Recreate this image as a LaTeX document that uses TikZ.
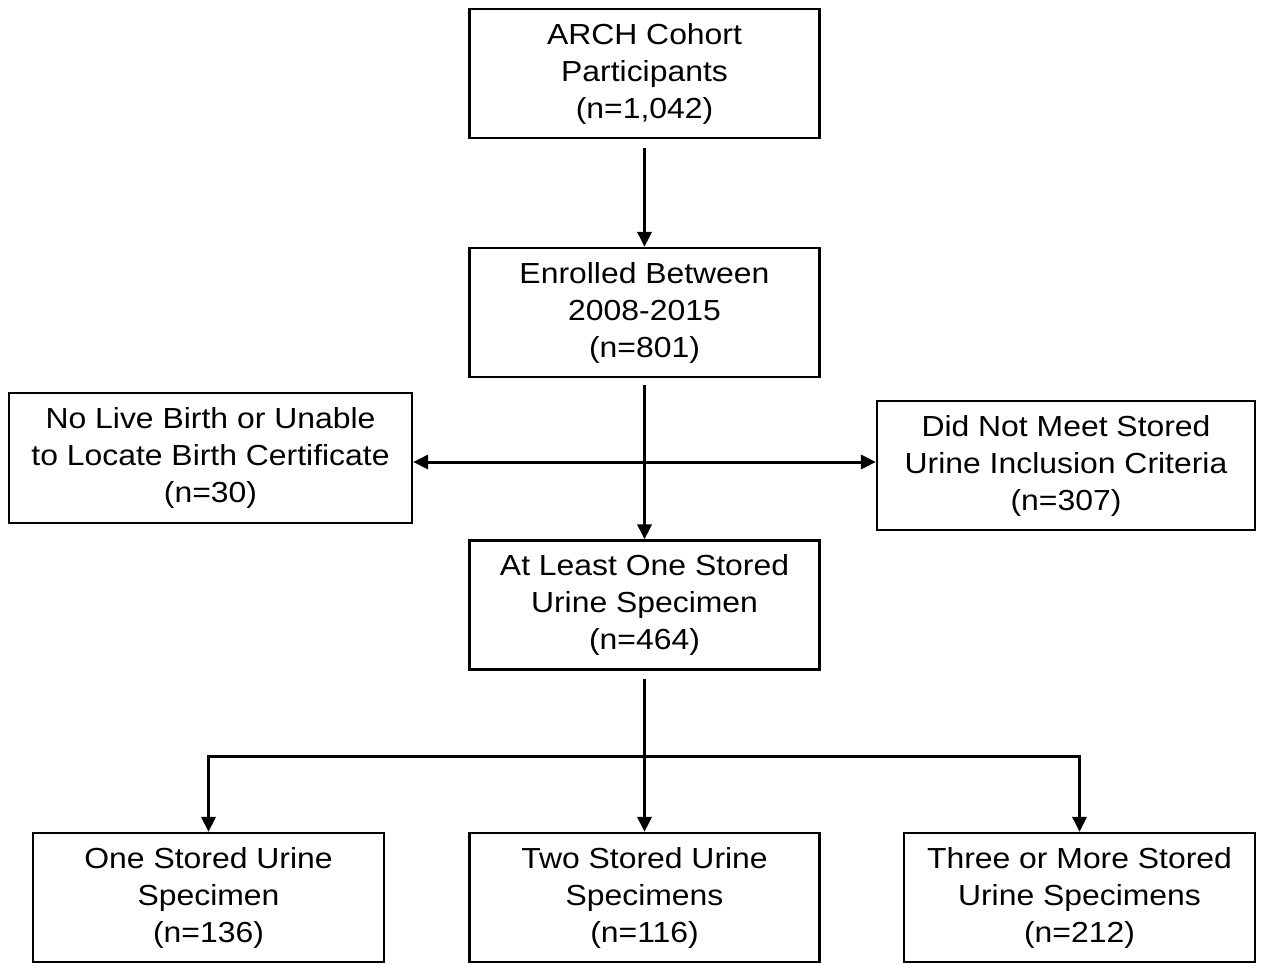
\documentclass[tikz,border=0pt]{standalone}
\usepackage{fontspec}
\setmainfont{Liberation Sans}[FakeStretch=1.1]
\usetikzlibrary{arrows.meta}

\tikzset{
  stepbox/.style={draw, line width=2.2pt, inner sep=0pt, align=center,
    minimum width=350pt, minimum height=129pt,
    font=\fontsize{29}{37}\selectfont,
    execute at begin node=\rule{0pt}{27pt}},
  arr/.style={line width=3pt, -{Triangle[length=15pt,width=14pt]}},
  darr/.style={line width=3pt, {Triangle[length=15pt,width=14pt]}-{Triangle[length=15pt,width=14pt]}}
}

\begin{document}
\begin{tikzpicture}[x=1pt,y=-1pt]
\useasboundingbox (0,0) rectangle (1265,963);
\clip (0,0) rectangle (1265,963);

\node[stepbox] (arch) at (644.5,73.5) {ARCH Cohort\\Participants\\(n=1,042)};
\node[stepbox] (enrolled) at (644.5,312.5) {Enrolled Between\\2008-2015\\(n=801)};
\node[stepbox, minimum width=403pt, minimum height=130pt] (nolive) at (210.5,458) {No Live Birth or Unable\\to Locate Birth Certificate\\(n=30)};
\node[stepbox, minimum width=378pt] (notmet) at (1066,465.5) {Did Not Meet Stored\\Urine Inclusion Criteria\\(n=307)};
\node[stepbox] (atleast) at (644.5,605) {At Least One Stored\\Urine Specimen\\(n=464)};

\node[stepbox, minimum width=351pt] (one) at (208.5,897.5) {One Stored Urine\\Specimen\\(n=136)};
\node[stepbox] (two) at (644.5,897.5) {Two Stored Urine\\Specimens\\(n=116)};
\node[stepbox, minimum width=351pt] (three) at (1079.5,897.5) {Three or More Stored\\Urine Specimens\\(n=212)};

\coordinate (mid) at (644.5,462);
\coordinate (split) at (644.5,756);

\draw[arr, shorten <=9pt] (arch) -- (enrolled);
\draw[arr, shorten <=7pt] (enrolled) -- (atleast);
\draw[darr] (nolive.east |- mid) -- (notmet.west |- mid);

% branches
\draw[line width=3pt, shorten <=8pt] (atleast) -- (split);
\draw[line width=3pt, line cap=rect] (one.north |- split) -- (three.north |- split);
\draw[arr] (one.north |- split) -- (one);
\draw[arr] (split) -- (two);
\draw[arr] (three.north |- split) -- (three);
\end{tikzpicture}
\end{document}
